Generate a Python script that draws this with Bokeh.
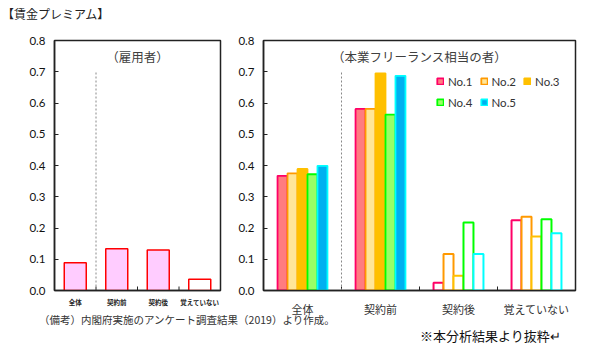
import math
from bokeh.plotting import figure
from bokeh.models import (ColumnDataSource, FactorRange, Range1d, FixedTicker,
                          NumeralTickFormatter, Legend, LegendItem, Div)
from bokeh.transform import dodge
from bokeh.layouts import column, row
from bokeh.core.properties import value
from bokeh.embed import file_html
from bokeh.resources import INLINE

# ---------------- data ----------------
title_text = "【賃金プレミアム】"
note_text = "（備考）内閣府実施のアンケート調査結果（2019）より作成。"
excerpt_text = "※本分析結果より抜粋↵"
left_title = "（雇用者）"
right_title = "（本業フリーランス相当の者）"

categories = ["全体", "契約前", "契約後", "覚えていない"]
employee_values = [0.089, 0.134, 0.130, 0.036]

series_names = ["No.1", "No.2", "No.3", "No.4", "No.5"]
no1 = [0.367, 0.581, 0.025, 0.225]
no2 = [0.375, 0.581, 0.117, 0.236]
no3 = [0.389, 0.695, 0.047, 0.173]
no4 = [0.372, 0.563, 0.218, 0.228]
no5 = [0.399, 0.687, 0.117, 0.183]
series_values = [no1, no2, no3, no4, no5]

y_ticks = [0.0, 0.1, 0.2, 0.3, 0.4, 0.5, 0.6, 0.7, 0.8]
y_max = 0.8
divider_top = 0.7
title_y = 0.75

# ---------------- styles ----------------
JP = "Noto Sans CJK JP"
NUM = "Lato"
line_cols = ["#FF0066", "#FF9900", "#FFC000", "#00FF00", "#00FFFF"]
fill_cols = ["#FF7C80", "#FFE699", "#FFC000", "#99FF66", "#00B0F0"]
FRAME = "#222222"


def base_figure(width, left, right):
    p = figure(width=width, height=292, x_range=FactorRange(*categories),
               y_range=Range1d(0, y_max), output_backend="svg",
               toolbar_location=None, min_border_left=left, min_border_right=right,
               min_border_top=12, min_border_bottom=30)
    p.xgrid.visible = False
    p.ygrid.visible = False
    p.outline_line_color = FRAME
    p.outline_line_width = 1.5
    p.background_fill_color = "white"
    p.border_fill_color = "white"
    ya = p.yaxis[0]
    ya.ticker = FixedTicker(ticks=y_ticks)
    ya.formatter = NumeralTickFormatter(format="0.0")
    ya.major_tick_in = 4
    ya.major_tick_out = 0
    ya.minor_tick_line_color = None
    ya.axis_line_color = FRAME
    ya.axis_line_width = 1.5
    ya.major_tick_line_color = FRAME
    ya.major_label_text_font = NUM
    ya.major_label_text_font_size = "11.5px"
    ya.major_label_text_color = "#111111"
    ya.major_label_standoff = 9
    xa = p.xaxis[0]
    xa.major_tick_line_color = None
    xa.axis_line_color = FRAME
    xa.axis_line_width = 1.5
    # boundary ticks (between categories), pointing inward
    bsrc = ColumnDataSource(dict(x=categories[1:], y=[0.0] * (len(categories) - 1)))
    p.scatter(x=dodge("x", -0.5, range=p.x_range), y="y", source=bsrc, marker="dash",
              angle=math.pi / 2, size=8, line_color=FRAME, line_width=1)
    # dotted divider after first category
    dsrc = ColumnDataSource(dict(x=[categories[0]], y0=[0.0], y1=[divider_top]))
    p.segment(x0=dodge("x", 0.5, range=p.x_range), y0="y0",
              x1=dodge("x", 0.5, range=p.x_range), y1="y1", source=dsrc,
              line_color="#888888", line_width=1, line_dash="2 2")
    return p


# ---------------- left panel ----------------
p1 = base_figure(232, 54, 12)
left_fill = ["#FFCCFF"] * 3 + ["#FFFFFF"]
lsrc = ColumnDataSource(dict(x=categories, top=employee_values, fill=left_fill))
p1.vbar(x="x", top="top", width=0.53, source=lsrc, fill_color="fill",
        line_color="#FF0000", line_width=1.5)
p1.xaxis.major_label_text_font = JP
p1.xaxis.major_label_text_font_size = "6.5px"
p1.xaxis.major_label_text_font_style = "bold"
p1.xaxis.major_label_text_color = "#222222"
p1.xaxis.major_label_standoff = 0
t1 = ColumnDataSource(dict(x=[categories[1]], y=[title_y], t=[left_title]))
p1.text(x=dodge("x", 0.5, range=p1.x_range), y="y", text="t", source=t1,
        text_font=value(JP), text_font_size="12.5px", text_color="#404040",
        text_align="center", text_baseline="middle")

# ---------------- right panel ----------------
p2 = base_figure(357, 31, 14)
bw = 0.128
items = {}
for i, (name, vals) in enumerate(zip(series_names, series_values)):
    off = (i - 2) * bw
    s_fill = ColumnDataSource(dict(x=categories[:2], top=vals[:2]))
    s_open = ColumnDataSource(dict(x=categories[2:], top=vals[2:]))
    r = p2.vbar(x=dodge("x", off, range=p2.x_range), top="top", width=bw, source=s_fill,
                fill_color=fill_cols[i], line_color=line_cols[i], line_width=1.8)
    p2.vbar(x=dodge("x", off, range=p2.x_range), top="top", width=bw, source=s_open,
            fill_color="white", line_color=line_cols[i], line_width=2)
    items[name] = LegendItem(label=name, renderers=[r])

# legend grid fills column-first: order so rows read No.1 No.2 No.3 / No.4 No.5
legend_order = ["No.1", "No.4", "No.2", "No.5", "No.3"]
legend = Legend(items=[items[n] for n in legend_order], nrows=2, location=(173, 181),
                padding=0, margin=0, spacing=7, glyph_width=8, glyph_height=8,
                label_height=14, label_width=24, label_standoff=4,
                border_line_color=None, background_fill_alpha=0, label_text_font=NUM,
                label_text_font_size="11.5px", label_text_color="#333333")
p2.add_layout(legend)

p2.xaxis.major_label_text_font = JP
p2.xaxis.major_label_text_font_size = "11px"
p2.xaxis.major_label_text_color = "#333333"
p2.xaxis.major_label_standoff = 4
t2 = ColumnDataSource(dict(x=[categories[1]], y=[title_y], t=[right_title]))
p2.text(x=dodge("x", 0.5, range=p2.x_range), y="y", text="t", source=t2,
        text_font=value(JP), text_font_size="12.5px", text_color="#404040",
        text_align="center", text_baseline="middle")

# ---------------- text blocks ----------------
head = Div(text=title_text, width=589, height=28, margin=(0, 0, 0, 0),
           styles={"font-family": f"'{JP}'", "font-size": "12px", "line-height": "28px",
                   "color": "#222222", "padding-left": "2px"})
foot_html = (
    f'<div style="position:relative;width:589px;height:27px;">'
    f'<span style="position:absolute;left:39px;top:-6px;font-size:10.5px;line-height:12px;'
    f'color:#333333;font-family:\'{JP}\';white-space:nowrap;">{note_text}</span>'
    f'<span style="position:absolute;left:420px;top:8px;font-size:13px;line-height:16px;'
    f'color:#111111;font-family:\'{JP}\';white-space:nowrap;">{excerpt_text}</span>'
    f'</div>'
)
foot = Div(text=foot_html, width=589, height=27, margin=(0, 0, 0, 0))

layout = column(head, row(p1, p2, spacing=0), foot, spacing=0)

with open("out.html", "w") as f:
    f.write(file_html(layout, INLINE))
